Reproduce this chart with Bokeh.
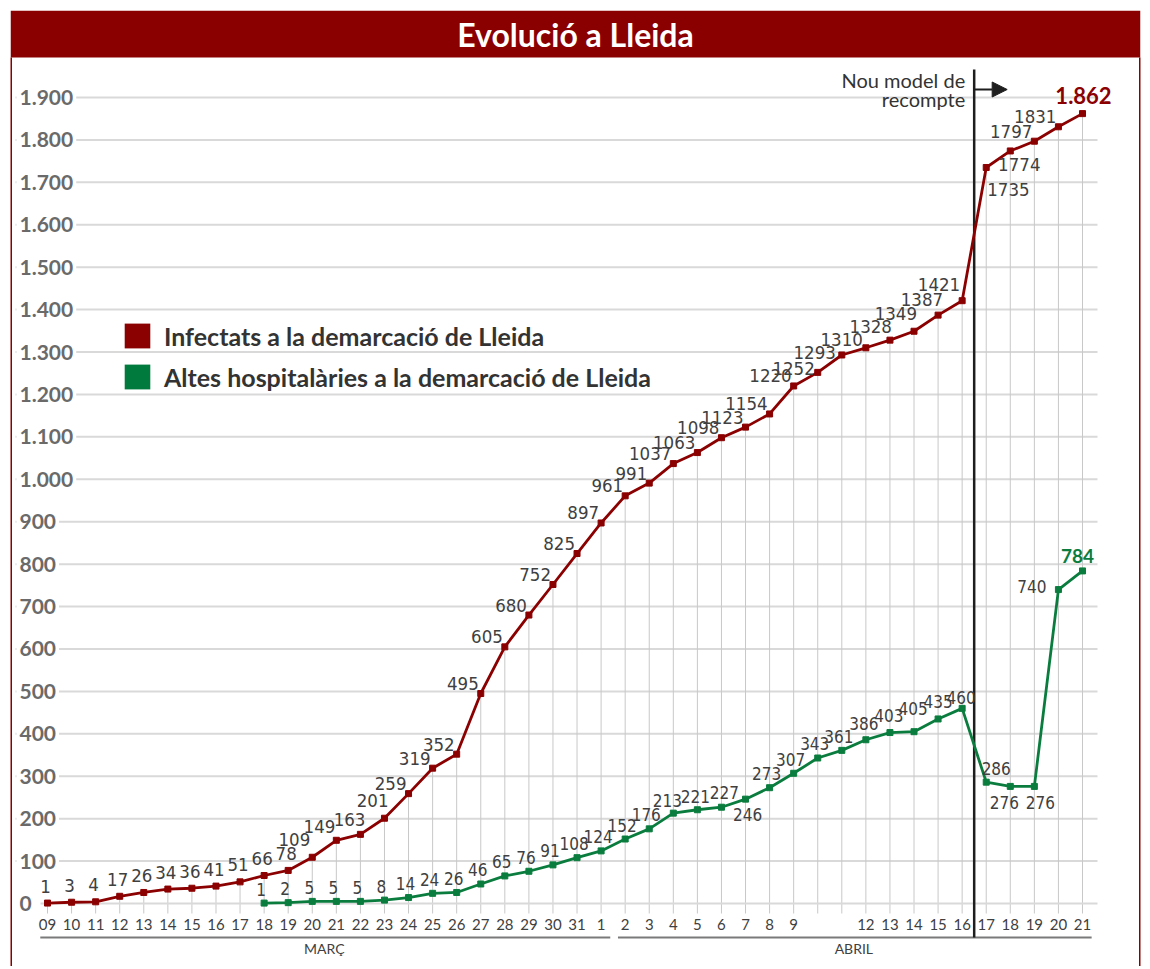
import numpy as np
from bokeh.plotting import figure
from bokeh.models import ColumnDataSource, Range1d, Legend, LegendItem, Arrow, NormalHead
from bokeh.core.properties import value, field
from bokeh.embed import file_html
from bokeh.resources import INLINE

# ---------------- data ----------------
title_text = "Evolució a Lleida"
day_labels = ["09", "10", "11", "12", "13", "14", "15", "16", "17", "18", "19", "20",
              "21", "22", "23", "24", "25", "26", "27", "28", "29", "30", "31",
              "1", "2", "3", "4", "5", "6", "7", "8", "9", "", "",
              "12", "13", "14", "15", "16", "17", "18", "19", "20", "21"]
month_names = ["MARÇ", "ABRIL"]
month_first = [0, 24]
month_last = [23, 43]
infectats = [1, 3, 4, 17, 26, 34, 36, 41, 51, 66, 78, 109, 149, 163, 201, 259, 319, 352,
             495, 605, 680, 752, 825,
             897, 961, 991, 1037, 1063, 1098, 1123, 1154, 1220, 1252, 1293, 1310, 1328,
             1349, 1387, 1421,
             1735, 1774, 1797, 1831, 1862]
altes = [None, None, None, None, None, None, None, None, None,
         1, 2, 5, 5, 5, 8, 14, 24, 26, 46, 65, 76, 91, 108,
         124, 152, 176, 213, 221, 227, 246, 273, 307, 343, 361, 386, 403, 405, 435, 460,
         286, 276, 276, 740, 784]
y_ticks = [0, 100, 200, 300, 400, 500, 600, 700, 800, 900, 1000,
           1100, 1200, 1300, 1400, 1500, 1600, 1700, 1800, 1900]
y_tick_labels = ["0", "100", "200", "300", "400", "500", "600", "700", "800", "900", "1.000",
                 "1.100", "1.200", "1.300", "1.400", "1.500", "1.600", "1.700", "1.800", "1.900"]
legend_labels = ["Infectats a la demarcació de Lleida",
                 "Altes hospitalàries a la demarcació de Lleida"]
note_lines = ["Nou model de", "recompte"]
last_old_model_day = 38   # 16 d'abril

# ---------------- styles / layout ----------------
RED = "#8b0000"
GREEN = "#0a7d3e"
BAND = "#8a0000"
TXT = "#404040"
GRID = "#d9d9d9"
DROP = "#c8c8c8"

W, H = 1148, 966
FL, FR, FT, FB = 10, 1140, 10, H         # frame edges (canvas px)
X0_PX, X1_PX = 47, 1082                  # canvas x of first / last day
Y0_PX, YT_PX = 903, 97                   # canvas y of value 0 / top tick

n = len(day_labels)
idx = np.arange(n)
PX = (X1_PX - X0_PX) / (n - 1)
PY = (Y0_PX - YT_PX) / y_ticks[-1]
x_start = -(X0_PX - FL) / PX
x_end = x_start + (FR - FL) / PX
y_end = (Y0_PX - FT) / PY
y_start = -(FB - Y0_PX) / PY


def xc(cx):
    return x_start + (cx - FL) / PX


def yc(cy):
    return (Y0_PX - cy) / PY


p = figure(width=W, height=H, output_backend="svg", toolbar_location=None,
           x_range=Range1d(x_start, x_end), y_range=Range1d(y_start, y_end),
           x_axis_location=None, y_axis_location=None,
           min_border_left=FL, min_border_right=W - FR, min_border_top=FT,
           min_border_bottom=0, outline_line_color=None,
           background_fill_color="white", border_fill_color="white")
p.grid.visible = False

# title band
p.quad(left=[x_start], right=[x_end], bottom=[yc(57)], top=[y_end],
       fill_color=BAND, line_color=None)
p.text(x=[xc(575)], y=[yc(33.5)], text=[title_text], text_align="center",
       text_baseline="middle", text_color="white", text_font=value("Lato"),
       text_font_style="bold", text_font_size="32px")
# side borders
p.segment(x0=[x_start, x_end], x1=[x_start, x_end], y0=[yc(57)] * 2, y1=[y_start] * 2,
          line_color=BAND, line_width=3)

# horizontal gridlines
gy = y_ticks[1:]
p.segment(x0=[xc(15)] * len(gy), x1=[xc(1097)] * len(gy), y0=gy, y1=gy,
          line_color=GRID, line_width=2)
# drop lines (also tick marks under the axis)
p.segment(x0=idx, x1=idx, y0=infectats, y1=[yc(913)] * n, line_color=DROP, line_width=1)
# axis line
p.segment(x0=[xc(40)], x1=[xc(1097)], y0=[0], y1=[0], line_color=GRID, line_width=2)

# y tick labels
p.text(x=[xc(16)] * len(y_ticks), y=y_ticks, text=y_tick_labels, text_align="left",
       text_baseline="middle", text_color="#6a6a6a", text_font=value("Lato"),
       text_font_style="bold", text_font_size="21px",
       background_fill_color="white", padding=3)

# x tick labels
p.text(x=idx, y=[yc(924)] * n, text=day_labels, text_align="center",
       text_baseline="middle", text_color=TXT, text_font=value("Lato"),
       text_font_size="15px")
# month groups
for name, a, b in zip(month_names, month_first, month_last):
    p.segment(x0=[a - 0.3], x1=[b + 0.38], y0=[yc(937)], y1=[yc(937)],
              line_color="#7a7a7a", line_width=2)
    p.text(x=[(a + b) / 2], y=[yc(948)], text=[name], text_align="center",
           text_baseline="middle", text_color=TXT, text_font=value("Lato"),
           text_font_size="14px")

# new counting model marker
xb = last_old_model_day + 0.5
p.segment(x0=[xb], x1=[xb], y0=[yc(69)], y1=[yc(937)], line_color="#1e1e1e", line_width=2.5)
p.add_layout(Arrow(end=NormalHead(size=15, fill_color="#1e1e1e", line_color="#1e1e1e"),
                   x_start=xb, y_start=yc(89), x_end=xb + 33 / PX, y_end=yc(89),
                   line_color="#1e1e1e", line_width=2))
p.text(x=[xb, xb], y=[yc(79), yc(98)], text=note_lines, text_align="right",
       text_baseline="middle", x_offset=-9, text_color="#333333",
       text_font=value("Lato"), text_font_size="20px")

# series
red_src = ColumnDataSource(dict(x=idx, y=infectats))
alt_y = np.array([np.nan if v is None else v for v in altes], dtype=float)
green_src = ColumnDataSource(dict(x=idx, y=alt_y))
p.line("x", "y", source=red_src, line_color=RED, line_width=2.8)
p.scatter("x", "y", source=red_src, marker="square", size=6, fill_color=RED, line_color=RED)
p.line("x", "y", source=green_src, line_color=GREEN, line_width=2.8)
p.scatter("x", "y", source=green_src, marker="square", size=6, fill_color=GREEN,
          line_color=GREEN)

# data labels: placement rules (align, x offset px, y offset px)
first_steep_day = 11
RED_SPECIAL = {11: ("right", -2, -18), 12: ("right", -1, -14), 13: ("right", 5, -15),
               14: ("right", 4, -18), 32: ("right", -3, -4), 33: ("right", -6, -2),
               34: ("right", -3, -8), 35: ("right", 2, -14), 36: ("right", 3, -18),
               37: ("right", 5, -16), 38: ("right", -2, -16),
               39: ("left", 1, 22), 40: ("center", 9, 14)}
GREEN_SPECIAL = {26: ("center", -6, -13), 27: ("center", -2, -13), 28: ("center", 3, -15),
                 29: ("center", 2, 15), 34: ("center", -2, -16), 35: ("center", -1, -17),
                 36: ("center", -1, -23), 37: ("center", 0, -17), 38: ("center", -1, -11),
                 39: ("center", 10, -14), 40: ("center", -6, 16),
                 41: ("center", 6, 16), 42: ("right", -12, -3)}


def label_table(values, rule):
    tab = dict(x=[], y=[], text=[], align=[], dx=[], dy=[])
    for i, v in enumerate(values[:-1]):
        if v is None:
            continue
        a, ox, oy = rule(i)
        for k, val in zip(("x", "y", "text", "align", "dx", "dy"),
                          (i, v, str(v), a, ox, oy)):
            tab[k].append(val)
    return ColumnDataSource(tab)


def red_rule(i):
    if i in RED_SPECIAL:
        return RED_SPECIAL[i]
    return ("center", -2, -17) if i < first_steep_day else ("right", -2, -10)


def green_rule(i):
    return GREEN_SPECIAL.get(i, ("center", -3, -14))


for src, size in ((label_table(infectats, red_rule), "18.5px"),
                  (label_table(altes, green_rule), "17px")):
    p.text("x", "y", text="text", source=src, text_align=field("align"),
           text_baseline="middle", x_offset="dx", y_offset="dy", text_color=TXT,
           text_font=value("DejaVu Sans Condensed"), text_font_size=size)

# last values, highlighted
last_red = "{:,}".format(infectats[-1]).replace(",", ".")
last_green = "{:,}".format(altes[-1]).replace(",", ".")
p.text(x=[n - 1], y=[infectats[-1]], text=[last_red], text_align="center",
       text_baseline="middle", x_offset=1, y_offset=-18, text_color=RED,
       text_font=value("Lato"), text_font_style="bold", text_font_size="22px")
p.text(x=[n - 1], y=[altes[-1]], text=[last_green], text_align="center",
       text_baseline="middle", x_offset=-5, y_offset=-15, text_color=GREEN,
       text_font=value("Lato"), text_font_style="bold", text_font_size="19px")

# legend (proxy renderers hold no visible data)
q_red = p.quad(left=[np.nan], right=[np.nan], top=[np.nan], bottom=[np.nan],
               fill_color=RED, line_color=None)
q_green = p.quad(left=[np.nan], right=[np.nan], top=[np.nan], bottom=[np.nan],
                 fill_color="#007a3d", line_color=None)
legend = Legend(items=[LegendItem(label=legend_labels[0], renderers=[q_red]),
                       LegendItem(label=legend_labels[1], renderers=[q_green])],
                location=(111, 574), glyph_width=32, glyph_height=31, spacing=10,
                label_standoff=11, padding=0, margin=0, border_line_color=None,
                background_fill_alpha=0, label_text_font="Lato",
                label_text_font_style="bold", label_text_font_size="25px",
                label_text_color="#333333", label_height=31)
p.add_layout(legend)

open("out.html", "w").write(file_html(p, INLINE))
